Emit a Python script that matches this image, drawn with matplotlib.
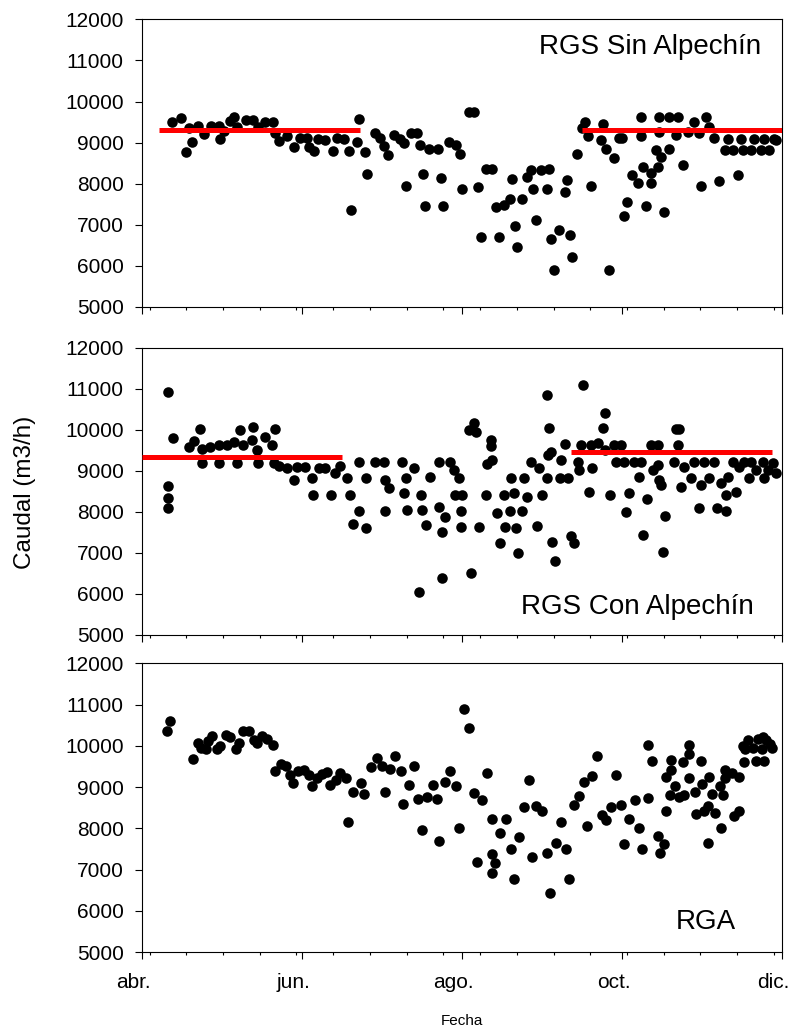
import numpy as np
import pandas as pd
import matplotlib
matplotlib.use("Agg")
import matplotlib.pyplot as plt
import matplotlib.dates as mdates
import matplotlib.transforms as mtransforms
from matplotlib.ticker import FixedLocator, MultipleLocator
from datetime import datetime

plt.rcParams['font.family'] = ['Liberation Sans', 'DejaVu Sans']

# ── Datos (días desde el 1 de abril, caudal m3/h) ───────────
dias_sin = [11.7, 14.9, 16.9, 18.2, 19.1, 21.6, 23.9, 26.3, 29.3, 29.9, 31.2, 33.5, 35.0, 36.5,
            39.8, 42.6, 44.5, 47.1, 50.0, 50.9, 52.2, 55.4, 57.9, 60.2, 63.0, 63.6, 65.8, 67.4,
            70.0, 72.9, 74.5, 77.0, 79.0, 79.8, 82.1, 82.9, 85.0, 85.9, 89.1, 91.0, 92.3, 93.8,
            96.1, 98.6, 99.9, 100.9, 102.5, 105.0, 106.0, 107.1, 108.0, 109.5, 113.0, 114.0,
            115.0, 117.1, 119.7, 121.2, 122.0, 124.7, 126.7, 128.2, 129.2, 131.1, 133.4, 134.9,
            136.2, 138.1, 140.4, 141.1, 142.2, 143.2, 145.1, 147.0, 148.3, 149.3, 150.2, 152.1,
            154.4, 155.3, 156.2, 157.2, 159.1, 161.3, 162.1, 163.3, 164.2, 166.1, 168.0, 168.9,
            170.0, 171.2, 175.0, 176.0, 177.2, 178.2, 180.1, 182.0, 183.3, 183.9, 185.2, 187.1,
            189.1, 190.3, 190.3, 191.0, 192.2, 194.1, 194.1, 196.0, 196.7, 197.3, 197.3, 197.9,
            199.2, 201.1, 201.1, 203.7, 204.3, 206.2, 208.1, 210.7, 212.6, 213.2, 215.1, 216.4,
            218.3, 220.2, 222.2, 223.4, 225.3, 227.2, 228.5, 229.1, 232.3, 233.6, 236.1, 237.4,
            239.3, 241.2, 241.9]
caudal_sin = [9510, 9610, 8780, 9360, 9020, 9400, 9200, 9400, 9400, 9080, 9290, 9530, 9630, 9370,
              9550, 9550, 9370, 9490, 9490, 9230, 9050, 9150, 8890, 9100, 9100, 8900, 8800, 9080,
              9060, 8800, 9100, 9080, 8800, 7360, 9020, 9570, 8760, 8240, 9230, 9100, 8920, 8700,
              9190, 9080, 8980, 7950, 9230, 9230, 8940, 8240, 7460, 8850, 8850, 8130,
              7460, 9020, 8940, 8720, 7860, 9750, 9750, 7910, 6710, 8360, 8360, 7430,
              6710, 7480, 7620, 8110, 6960, 6470, 7620, 8160, 8330, 7870, 7120, 8330,
              7870, 8360, 6660, 5900, 6870, 7810, 8090, 6740, 6210, 8720, 9350, 9490,
              9150, 7950, 9060, 9450, 8850, 5900, 8620, 9100, 9100, 7220, 7560, 8210,
              8010, 9630, 9150, 8400, 7460, 8010, 8250, 8820, 8400, 9630, 9270, 8660,
              7320, 8840, 9620, 9190, 9620, 8460, 9270, 9510, 9230, 7950, 9620, 9390,
              9100, 8070, 8820, 9080, 8820, 8210, 9080, 8820, 8820, 9080, 8820, 9080,
              8820, 9080, 9060]

dias_con = [10.2, 12.1, 10.2, 10.2, 10.2, 18.2, 20.0, 22.3, 22.9, 22.9, 26.1, 29.3, 29.3, 32.4,
            35.0, 36.3, 37.3, 38.8, 42.0, 42.4, 43.9, 44.5, 47.1, 49.6, 50.9, 50.3, 52.2, 55.4,
            58.2, 59.2, 62.4, 64.9, 65.3, 67.5, 70.0, 72.2, 73.8, 75.7, 78.3, 79.3, 80.4, 82.7,
            83.0, 85.4, 85.7, 89.1, 92.3, 92.9, 92.9, 94.2, 99.3, 99.9, 100.6, 101.2, 103.7,
            106.3, 106.9, 108.2, 105.6, 110.1, 113.3, 113.3, 114.6, 114.6, 115.8, 117.7, 119.0,
            119.6, 120.9, 121.8, 121.6, 122.2, 124.7, 125.4, 126.7, 127.3, 128.6, 131.1, 133.0,
            133.3, 131.8, 133.7, 135.6, 136.6, 138.1, 138.4, 140.4, 140.9, 141.9, 142.6, 143.5,
            145.1, 145.8, 147.0, 148.3, 150.6, 151.5, 152.8, 154.4, 154.4, 154.9, 155.3, 156.0,
            156.6, 157.6, 159.5, 159.8, 161.3, 162.6, 163.6, 164.9, 166.4, 166.8, 168.4, 167.4,
            170.6, 171.2, 171.5, 173.8, 175.7, 176.6, 176.6, 178.6, 180.1, 180.8, 182.7, 184.0,
            184.6, 185.9, 187.8, 189.7, 190.3, 191.3, 192.6, 194.1, 194.8, 196.7, 196.7, 197.3,
            197.9, 198.6, 199.5, 203.1, 203.7, 205.0, 204.3, 205.6, 206.9, 209.4, 210.7, 212.6,
            213.2, 214.5, 216.4, 218.3, 219.3, 220.9, 222.8, 222.8, 223.4, 225.3, 226.6, 227.9,
            229.8, 231.7, 232.3, 234.2, 236.8, 237.4, 238.7, 240.6, 241.9]
caudal_con = [10910, 9810, 8640, 8330, 8090, 9590, 9730, 10010, 9520, 9180, 9570, 9630, 9180, 9630,
              9710, 9180, 10000, 9630, 9740, 10080, 9510, 9180, 9830, 9630, 10020, 9180, 9120, 9060,
              8780, 9100, 9100, 8820, 8410, 9060, 9060, 8410, 8940, 9120, 8820, 8410, 7710, 9220,
              8010, 7600, 8820, 9220, 9220, 8780, 8030, 8570, 9220, 8450, 8820, 8050, 9060,
              8410, 8050, 7680, 6040, 8860, 9220, 8130, 6380, 7520, 7880, 9220, 9020,
              8410, 8820, 7640, 8010, 8410, 10000, 6500, 10160, 9950, 7640, 8410, 9750,
              9600, 9170, 9260, 7970, 7250, 8410, 7640, 8010, 8820, 8450, 7600, 7010,
              8010, 8820, 8370, 9220, 7660, 9060, 8410, 10850, 8820, 9390, 10040, 9470,
              7260, 6800, 8820, 9260, 9650, 8820, 7400, 7230, 9220, 9020, 11080, 9630,
              8490, 9630, 9060, 9690, 10040, 10400, 9510, 8410, 9630, 9220, 9630, 9220,
              7990, 8450, 9220, 8860, 9220, 7440, 8310, 9630, 9020, 9630, 9140, 8780,
              8660, 7020, 7910, 9220, 10010, 10010, 9630, 8610, 9100, 8820, 9220, 8100,
              8660, 9220, 8820, 9220, 8100, 8700, 8010, 8410, 8860, 9220, 8490, 9100,
              9220, 8820, 9220, 9020, 9220, 8820, 9020, 9180, 8940]

dias_rga = [9.6, 10.6, 19.7, 21.4, 22.7, 24.4, 25.2, 26.9, 28.6, 29.8, 32.0, 33.6, 35.8, 37.0,
            38.7, 40.9, 42.9, 44.1, 45.9, 47.9, 50.0, 51.0, 53.0, 55.0, 56.4, 57.7, 59.7, 61.7,
            63.9, 64.8, 66.8, 68.9, 70.6, 71.8, 74.0, 75.7, 77.7, 78.7, 80.7, 83.6, 84.6, 87.5,
            89.7, 91.7, 92.8, 94.7, 96.7, 98.9, 99.7, 101.8, 103.8, 105.5, 106.8, 108.8, 111.0,
            112.7, 113.5, 115.7, 117.7, 119.9, 121.1, 122.8, 124.8, 126.7, 127.8, 129.7, 131.7,
            133.7, 133.7, 134.6, 133.7, 136.7, 138.8, 140.8, 141.8, 143.8, 145.8, 147.7, 148.9,
            150.5, 152.7, 154.7, 155.6, 157.8, 159.8, 161.8, 162.8, 164.8, 166.9, 168.7, 171.8,
            173.7, 169.9, 175.4, 177.1, 178.8, 180.8, 182.8, 183.8, 185.9, 187.9, 189.6, 190.9,
            192.9, 192.9, 194.6, 196.8, 197.6, 199.3, 199.7, 199.7, 201.3, 201.8, 201.8, 203.5,
            204.7, 206.9, 206.4, 208.6, 208.6, 208.6, 210.8, 211.4, 213.1, 213.6, 214.5, 215.8,
            215.8, 216.1, 217.5, 218.7, 220.3, 220.8, 221.5, 222.5, 222.5, 224.9, 225.9, 227.9,
            227.9, 229.6, 229.3, 229.9, 231.3, 233.0, 234.3, 235.0, 236.3, 236.7, 237.2, 238.1,
            239.4, 240.2]
caudal_rga = [10370, 10600, 9680, 10070, 9950, 9920, 10110, 10230, 9910, 9990, 10250, 10220, 9920, 10070,
              10350, 10350, 10150, 10070, 10230, 10170, 10010, 9400, 9570, 9520, 9300, 9100, 9380, 9420,
              9280, 9020, 9220, 9320, 9360, 9060, 9180, 9340, 9220, 8160, 8890, 9100, 8840, 9490,
              9700, 9500, 8870, 9440, 9750, 9400, 8590, 9060, 9520, 8710, 7950, 8770, 9060,
              8710, 7700, 9110, 9380, 9030, 8000, 10880, 10420, 8850, 7190, 8680, 9340,
              8220, 7380, 7150, 6910, 7880, 8220, 7490, 6760, 7800, 8510, 9180, 7300,
              8530, 8410, 7390, 6420, 7650, 8160, 7490, 6760, 8570, 8790, 9110, 9260,
              9760, 8060, 8330, 8190, 8510, 9280, 8570, 7620, 8220, 8690, 8000, 7500,
              8730, 10030, 9620, 7820, 7390, 7620, 8410, 9240, 8810, 9410, 9650, 9020,
              8770, 8810, 9600, 9810, 10030, 9220, 8890, 8350, 9620, 9080, 8410, 8530,
              7640, 9240, 8830, 8380, 9030, 8000, 8810, 9420, 9220, 9340, 8290, 8410,
              9240, 9600, 9990, 9910, 10150, 9950, 9620, 10170, 9910, 10220, 9620, 10150,
              10050, 9950]

# líneas de media (día inicio, día fin, caudal)
media_sin = [(6.7, 83.4, 9300), (168.0, 244.0, 9300)]
media_con = [(0.0, 76.4, 9345), (163.6, 240.3, 9450)]

paneles = [
    ("RGS Sin Alpechín", dias_sin, caudal_sin, media_sin),
    ("RGS Con Alpechín", dias_con, caudal_con, media_con),
    ("RGA", dias_rga, caudal_rga, []),
]

inicio = mdates.date2num(datetime(2009, 4, 1))
fin = mdates.date2num(datetime(2009, 12, 1))
meses = [datetime(2009, m, 1) for m in (4, 6, 8, 10, 12)]
nombres_meses = ["abr.", "jun.", "ago.", "oct.", "dic."]
menores = mdates.date2num(pd.date_range("2009-04-04", "2009-12-01", freq="14D").to_pydatetime())

# ── Figura ───────────────────────────────────────────────────
W, H = 792, 1029
fig = plt.figure(figsize=(W / 100, H / 100), dpi=100)

cajas = [(19.3, 307.0), (347.7, 635.0), (663.3, 952.0)]
left, right = 141.7, 781.7
pos_texto = [(0.968, 0.905), (0.957, 0.097), (0.929, 0.104)]

for i, ((nombre, dias, caudal, medias), (top, bot)) in enumerate(zip(paneles, cajas)):
    ax = fig.add_axes([left / W, 1 - bot / H, (right - left) / W, (bot - top) / H])
    x = inicio + np.array(dias)
    ax.plot(x, caudal, 'o', color='black', markersize=7.6, markeredgewidth=0, zorder=3)
    for d0, d1, nivel in medias:
        ax.plot([inicio + d0, inicio + d1], [nivel, nivel], color='#ff0000', lw=3.6,
                solid_capstyle='butt', zorder=4)

    ax.set_xlim(inicio, fin)
    ax.set_ylim(5000, 12000)
    ax.yaxis.set_major_locator(MultipleLocator(1000))
    ax.xaxis.set_major_locator(FixedLocator(mdates.date2num(meses)))
    ax.xaxis.set_minor_locator(FixedLocator(menores))
    ax.tick_params(axis='y', direction='out', length=5, width=0.8, labelsize=15, pad=8)
    ax.tick_params(axis='x', which='major', direction='out', length=5, width=0.8,
                   labelsize=15, pad=10)
    ax.tick_params(axis='x', which='minor', direction='out', length=2.5, width=0.8)
    if i == 2:
        ax.set_xticklabels(nombres_meses)
        # las etiquetas del original quedan algo a la izquierda de su marca
        desplaza = mtransforms.ScaledTranslation(-8 / 100, 0, fig.dpi_scale_trans)
        for lab in ax.get_xticklabels():
            lab.set_transform(lab.get_transform() + desplaza)
    else:
        ax.set_xticklabels([])
    for s in ax.spines.values():
        s.set_linewidth(0.8)

    tx, ty = pos_texto[i]
    ax.text(tx, ty, nombre, transform=ax.transAxes, ha='right', va='center', fontsize=20)

fig.text(25 / W, 1 - 492 / H, "Caudal (m3/h)", rotation=90, ha='center', va='center',
         fontsize=17.5)
fig.text(461.7 / W, 1 - 1021 / H, "Fecha", ha='center', va='center', fontsize=11)

fig.savefig("out.png", dpi=100)
